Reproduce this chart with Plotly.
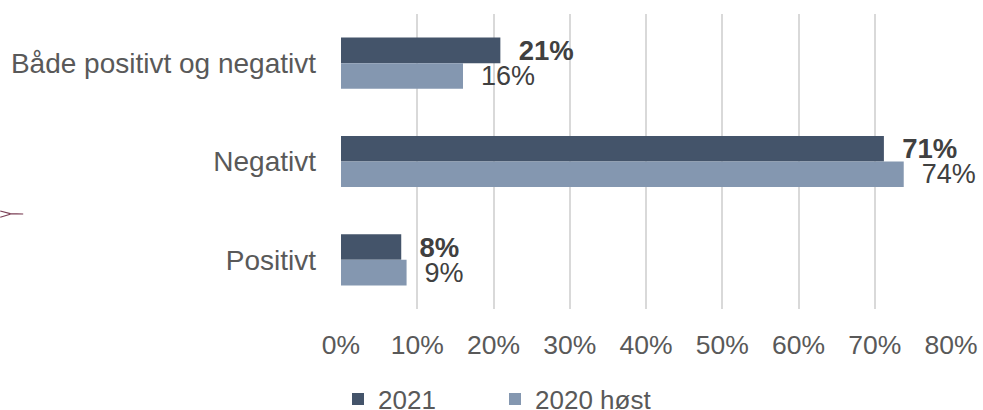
import plotly.graph_objects as go

categories = ["Både positivt og negativt", "Negativt", "Positivt"]
series_2021 = [20.9, 71.2, 7.9]
series_2020 = [16.0, 73.8, 8.6]
labels_2021 = ["21%", "71%", "8%"]
labels_2020 = ["16%", "74%", "9%"]
x_ticks = [0, 10, 20, 30, 40, 50, 60, 70, 80]
x_tick_labels = ["0%", "10%", "20%", "30%", "40%", "50%", "60%", "70%", "80%"]

FONT = "Liberation Sans, Arial, sans-serif"
TXT = "#595959"
PAD = "\u00a0\u00a0"

fig = go.Figure()
fig.add_trace(go.Bar(
    name="2021", y=categories, x=series_2021, orientation="h",
    marker=dict(color="#44546A", line=dict(width=0)),
    text=[PAD + t for t in labels_2021], textposition="outside",
    constraintext="none", cliponaxis=False,
    textfont=dict(family=FONT, size=27.5, color="#404040", weight="bold"),
))
fig.add_trace(go.Bar(
    name="2020 høst", y=categories, x=series_2020, orientation="h",
    marker=dict(color="#8497B0", line=dict(width=0)),
    text=[PAD + t for t in labels_2020], textposition="outside",
    constraintext="none", cliponaxis=False,
    textfont=dict(family=FONT, size=27, color="#404040"),
))

L, R, T, B = 341, 31.6, 14, 101
W, H = 983, 410
pw, ph = W - L - R, H - T - B

def px(xp):
    return (xp - L) / pw

def py(yp):
    return (H - B - yp) / ph

fig.update_layout(
    width=W, height=H, autosize=False,
    margin=dict(l=L, r=R, t=T, b=B, autoexpand=False),
    paper_bgcolor="white", plot_bgcolor="white",
    barmode="group", bargap=0.48, bargroupgap=0,
    font=dict(family=FONT, size=26, color=TXT),
    xaxis=dict(range=[0, 80], tickvals=x_ticks, ticktext=x_tick_labels,
               showgrid=True, gridcolor="#D9D9D9", gridwidth=1.5,
               zeroline=False, showline=False, ticks="", ticklabelstandoff=17,
               automargin=False, tickfont=dict(size=26.5, color=TXT)),
    yaxis=dict(autorange="reversed", showgrid=False, zeroline=False, showline=False,
               ticks="", ticklabelstandoff=24, automargin=False,
               tickfont=dict(size=28, color=TXT)),
    legend=dict(orientation="h", x=px(338), xanchor="left", y=py(399), yanchor="middle",
                font=dict(size=26, color=TXT), itemwidth=30, entrywidth=112,
                bgcolor="rgba(0,0,0,0)"),
    showlegend=True,
    shapes=[dict(type="path", xref="paper", yref="paper",
                 path=f"M {px(0)} {py(211)} L {px(10)} {py(213.7)} L {px(23)} {py(214)} "
                      f"M {px(0)} {py(217.3)} L {px(10)} {py(214.3)}",
                 line=dict(color="#7B3F55", width=1.2))],
)

fig.write_html("out.html", config={"displayModeBar": False},
               post_script="document.body.style.margin='0';")
